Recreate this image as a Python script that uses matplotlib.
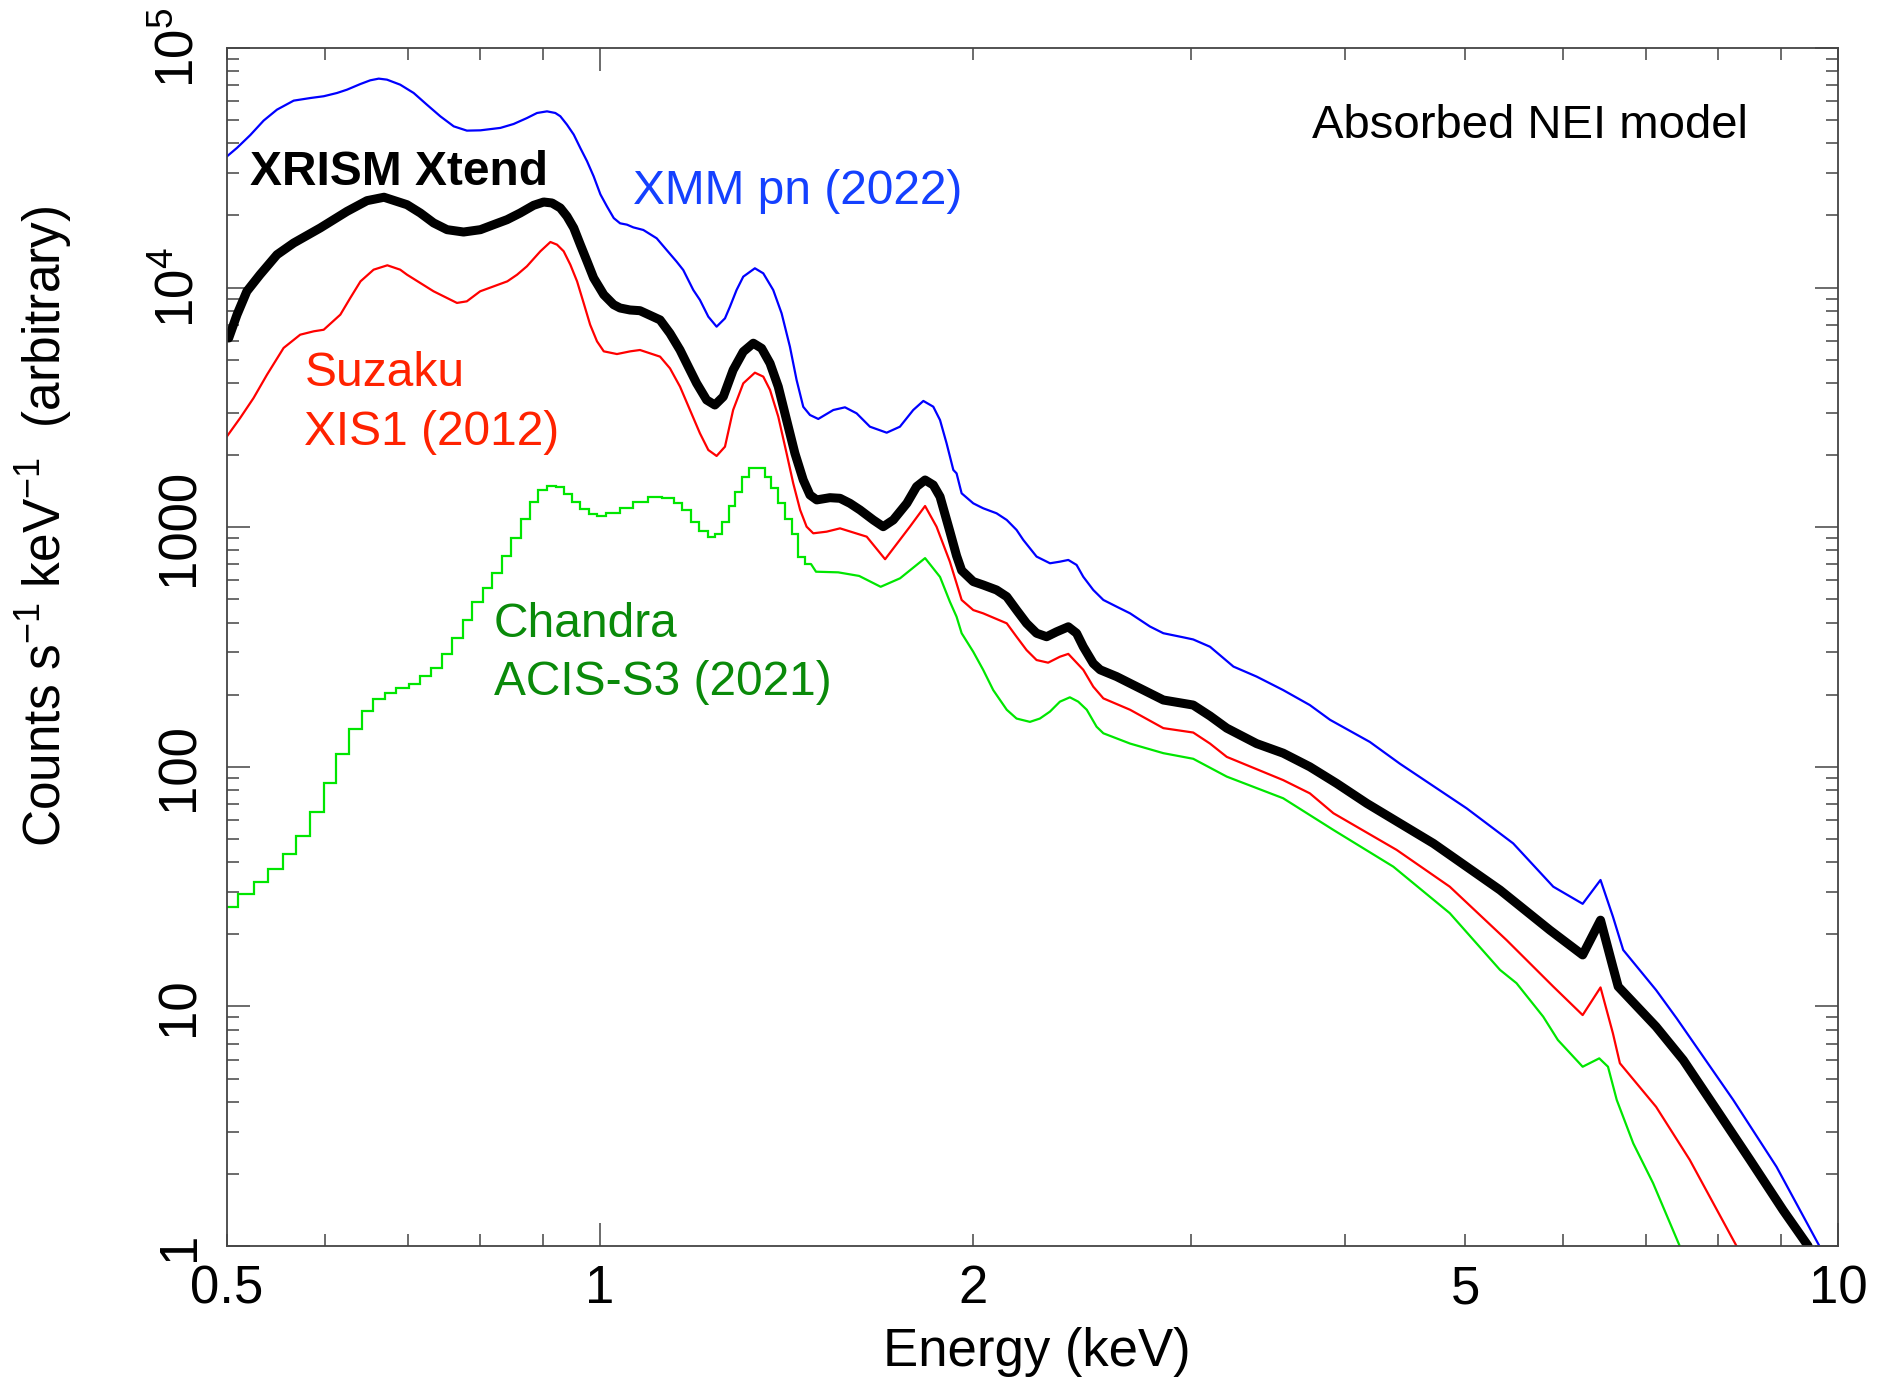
import numpy as np
import matplotlib.pyplot as plt
from matplotlib.ticker import FixedLocator, FixedFormatter, LogLocator, NullFormatter

plt.rcParams['font.family'] = ['Liberation Sans', 'DejaVu Sans']
plt.rcParams['mathtext.fontset'] = 'custom'
plt.rcParams['mathtext.rm'] = 'Liberation Sans'
plt.rcParams['mathtext.it'] = 'Liberation Sans:italic'
plt.rcParams['mathtext.bf'] = 'Liberation Sans:bold'

# =====================================================
# XMM pn (2022)
# =====================================================
xmm_e = [0.500, 0.5094, 0.5221, 0.5353, 0.5487, 0.566, 0.5839, 0.5985, 0.6135, 0.625,
         0.6406, 0.6526, 0.663, 0.6732, 0.690, 0.7075, 0.7251, 0.7435, 0.7622, 0.7811,
         0.801, 0.8313, 0.852, 0.8733, 0.8899, 0.9066, 0.9207, 0.9293, 0.9409, 0.9528,
         0.9645, 0.9766, 0.9887, 1.0012, 1.0134, 1.0264, 1.0385, 1.0519, 1.0644, 1.0844,
         1.1117, 1.1325, 1.1537, 1.168, 1.19, 1.2048, 1.2237, 1.2427, 1.2622, 1.274,
         1.2897, 1.3059, 1.3344, 1.3554, 1.3807, 1.4024, 1.4242, 1.442, 1.46, 1.4783,
         1.5013, 1.5439, 1.5778, 1.6123, 1.6527, 1.705, 1.7475, 1.7913, 1.8253, 1.8593,
         1.8828, 1.9059, 1.93, 1.9416, 1.9537, 1.96, 2.0028, 2.0278, 2.0405, 2.0915,
         2.1315, 2.1708, 2.198, 2.253, 2.31, 2.353, 2.39, 2.427, 2.4575, 2.5036,
         2.551, 2.6147, 2.681, 2.782, 2.852, 2.96, 3.015, 3.1106, 3.249, 3.392,
         3.564, 3.745, 3.889, 4.187, 4.428, 5.013, 5.466, 5.889, 6.22, 6.43,
         6.58, 6.707, 7.13, 7.41, 8.23, 8.92, 9.66]
xmm_c = [35300, 38300, 43300, 49800, 55300, 60300, 61840, 62900, 64900, 67000,
         70700, 73300, 74500, 73780, 70300, 64900, 58000, 51850, 47100, 45200,
         45330, 46400, 48180, 51000, 53550, 54400, 53550, 51900, 47860, 43500,
         38240, 33700, 29140, 24500, 21840, 19500, 18550, 18310, 17840, 17400,
         16060, 14350, 12830, 11840, 9772, 8880, 7562, 6870, 7441, 8327,
         9770, 11110, 12040, 11470, 9770, 7807, 5670, 4116, 3180, 2940,
         2830, 3084, 3165, 2987, 2627, 2480, 2627, 3084, 3365, 3184,
         2800, 2239, 1733, 1678, 1477, 1385, 1258, 1218, 1199, 1143,
         1072, 974, 885, 754, 707, 718, 730, 696, 621, 547,
         497, 466, 437, 385, 361, 347, 340, 317, 262, 238,
         209, 181, 157, 127, 103, 67.1, 47.9, 31.6, 26.8, 33.7,
         23.7, 17.2, 11.7, 8.9, 4.07, 2.14, 1.0]

# =====================================================
# XRISM Xtend
# =====================================================
xrism_e = [0.5016, 0.5094, 0.5188, 0.5317, 0.5487, 0.566, 0.5947, 0.625, 0.6487, 0.6695,
           0.6988, 0.7163, 0.7342, 0.7528, 0.7763, 0.801, 0.8212, 0.8417, 0.8625, 0.8843,
           0.901, 0.915, 0.9293, 0.9409, 0.9528, 0.9645, 0.9766, 0.9887, 1.0075, 1.0261,
           1.0385, 1.0578, 1.0777, 1.1187, 1.1395, 1.161, 1.179, 1.1973, 1.2199, 1.2387,
           1.2583, 1.2815, 1.3059, 1.3305, 1.3512, 1.3725, 1.3937, 1.4154, 1.4375, 1.46,
           1.4783, 1.497, 1.5343, 1.5633, 1.5924, 1.6226, 1.663, 1.694, 1.726, 1.7703,
           1.8025, 1.8312, 1.8593, 1.8828, 1.9175, 1.9416, 1.96, 2.0028, 2.04, 2.0915,
           2.1315, 2.1708, 2.2115, 2.253, 2.2955, 2.3387, 2.39, 2.427, 2.4575, 2.5036,
           2.536, 2.6147, 2.681, 2.852, 3.015, 3.1106, 3.209, 3.392, 3.564, 3.745,
           3.936, 4.163, 4.712, 5.334, 5.853, 6.22, 6.43, 6.58, 6.645, 7.13,
           7.5, 7.98, 8.49, 9.03, 9.46]
xrism_c = [6160, 7710, 9650, 11330, 13720, 15350, 17740, 20800, 23060, 23830,
           22180, 20480, 18620, 17450, 17060, 17450, 18320, 19210, 20480, 22050,
           22760, 22550, 21500, 19830, 17740, 15110, 12880, 10970, 9340, 8489,
           8220, 8064, 8010, 7330, 6444, 5490, 4677, 3990, 3396, 3236,
           3506, 4530, 5402, 5860, 5579, 4830, 3859, 2802, 2034, 1574,
           1363, 1300, 1328, 1320, 1258, 1180, 1072, 1005, 1072, 1259,
           1477, 1574, 1500, 1341, 960, 760, 660, 593, 574, 547,
           513, 451, 397, 361, 349, 366, 384, 361, 317, 270,
           254, 238, 223, 190, 181, 163, 145, 125, 114, 100,
           85.3, 70.4, 47.9, 30.6, 20.8, 16.4, 22.9, 14.6, 12.1, 8.23,
           5.97, 3.70, 2.29, 1.41, 1.0]

# =====================================================
# Suzaku XIS1 (2012)
# =====================================================
suzaku_e = [0.5, 0.5124, 0.5253, 0.5386, 0.5555, 0.5729, 0.5875, 0.5985, 0.6173, 0.6288,
            0.6409, 0.6567, 0.6737, 0.69, 0.6988, 0.7342, 0.7668, 0.781, 0.8006, 0.8421,
            0.8575, 0.8733, 0.8954, 0.9123, 0.9236, 0.9351, 0.9468, 0.9587, 0.9705, 0.9823,
            0.9949, 1.0075, 1.0325, 1.0584, 1.0777, 1.1187, 1.1395, 1.161, 1.1827, 1.2048,
            1.2237, 1.2427, 1.2622, 1.2815, 1.3059, 1.3344, 1.3554, 1.3725, 1.3937, 1.4154,
            1.433, 1.4516, 1.4691, 1.4874, 1.5249, 1.5633, 1.6428, 1.70, 1.7802, 1.8312,
            1.8706, 1.9175, 1.9416, 1.96, 2.0028, 2.04, 2.1315, 2.1708, 2.2115, 2.253,
            2.302, 2.353, 2.39, 2.4575, 2.5036, 2.551, 2.681, 2.852, 3.015, 3.1106,
            3.209, 3.564, 3.745, 3.913, 4.401, 4.858, 5.40, 5.889, 6.22, 6.43,
            6.58, 6.666, 7.13, 7.59, 8.28]
suzaku_c = [2395, 2857, 3460, 4330, 5600, 6360, 6570, 6670, 7710, 9050,
            10620, 11880, 12390, 11880, 11320, 9650, 8630, 8764, 9650, 10620,
            11320, 12270, 14170, 15500, 15110, 14180, 12460, 10620, 8625, 7000,
            5967, 5420, 5280, 5420, 5490, 5150, 4603, 3860, 3084, 2465,
            2100, 1983, 2168, 3085, 3985, 4415, 4250, 3740, 2893, 2035,
            1525, 1180, 1005, 943, 958, 989, 913, 735, 1005, 1226,
            1005, 718, 583, 497, 451, 437, 397, 349, 307, 279,
            272, 288, 296, 254, 216, 193, 173, 145, 139, 125,
            110, 88, 77.5, 64, 45, 31.6, 18.9, 12.1, 9.2, 12.0,
            7.72, 5.79, 3.81, 2.29, 1.0]

# =====================================================
# Chandra ACIS-S3 (2021): channel bins at low energy + high energy part
# =====================================================
chandra_edges = [0.5, 0.5102, 0.5253, 0.5395, 0.5545, 0.5685, 0.5838, 0.5985, 0.6126, 0.6270,
                 0.6422, 0.6563, 0.6711, 0.6851, 0.7008, 0.7160, 0.7311, 0.7458, 0.7601, 0.7748,
                 0.7890, 0.8043, 0.8190, 0.8341, 0.8482, 0.8630, 0.8776, 0.8923, 0.9072, 0.9224,
                 0.9354, 0.9495, 0.9647, 0.9793, 0.9955, 1.0124, 1.038, 1.064, 1.093, 1.123,
                 1.147, 1.166, 1.184, 1.203, 1.223, 1.240, 1.256, 1.271, 1.287, 1.303,
                 1.321, 1.341, 1.359, 1.376, 1.394, 1.411, 1.429, 1.446, 1.465, 1.482]
chandra_bins = [26.1, 29.4, 33.0, 37.4, 43.3, 51.6, 64.6, 85.3, 112.7, 143.8,
                171.5, 191.8, 203.8, 213.3, 222.2, 238.6, 259.2, 295, 346, 410,
                486, 559, 646, 756, 904, 1085, 1277, 1429, 1485, 1468,
                1380, 1277, 1188, 1132, 1117, 1143, 1199, 1277, 1341, 1320,
                1259, 1180, 1056, 963, 913, 940, 1056, 1222, 1398, 1620,
                1760, 1760, 1620, 1452, 1259, 1085, 940, 753, 699]
chandra_e = [1.482, 1.495, 1.558, 1.62, 1.686, 1.748, 1.8312, 1.8828, 1.9175, 1.9416,
             1.96, 2.0028, 2.04, 2.0786, 2.1315, 2.1708, 2.2255, 2.267, 2.31, 2.353,
             2.397, 2.4346, 2.4735, 2.519, 2.551, 2.681, 2.852, 3.015, 3.209, 3.564,
             3.913, 4.374, 4.858, 5.334, 5.50, 5.78, 5.94, 6.22, 6.415, 6.52,
             6.627, 6.834, 7.09, 7.45]
chandra_c = [699, 652, 648, 626, 564, 612, 743, 620, 489, 423,
             361, 302, 254, 209, 173, 159, 154, 159, 170, 187,
             195, 187, 173, 147, 138, 125, 114, 108, 91, 73.9,
             54.5, 38.3, 24.5, 14.2, 12.5, 9.06, 7.24, 5.60, 6.07, 5.60,
             4.07, 2.68, 1.83, 1.0]

x_major = [1, 10]
x_major_labels = ['1', '10']
x_minor = [0.5, 0.6, 0.7, 0.8, 0.9, 2, 3, 4, 5, 6, 7, 8, 9]
x_minor_labels = ['0.5', '', '', '', '', '2', '', '', '5', '', '', '', '']
y_major = [1, 10, 100, 1000, 1e4, 1e5]
y_major_labels = ['1', '10', '100', '1000', r'$10^4$', r'$10^5$']

# =====================================================
# PLOT
# =====================================================
W, H = 1878, 1380
fig = plt.figure(figsize=(W / 100, H / 100), dpi=100)
ax = fig.add_axes([227 / W, 134 / H, 1611 / W, 1198 / H])

ax.stairs(chandra_bins, chandra_edges, color='#00e600', lw=1.6, baseline=None)
ax.plot(chandra_e, chandra_c, color='#00e600', lw=1.6)
ax.plot(suzaku_e, suzaku_c, color='#ff0000', lw=1.6)
ax.plot(xmm_e, xmm_c, color='#0000ff', lw=1.6)
ax.plot(xrism_e, xrism_c, color='black', lw=6.5, solid_capstyle='round',
        solid_joinstyle='round')

ax.set_xscale('log')
ax.set_yscale('log')
ax.set_xlim(0.5, 10)
ax.set_ylim(1, 1e5)

ax.xaxis.set_major_locator(FixedLocator(x_major))
ax.xaxis.set_major_formatter(FixedFormatter(x_major_labels))
ax.xaxis.set_minor_locator(FixedLocator(x_minor))
ax.xaxis.set_minor_formatter(FixedFormatter(x_minor_labels))
ax.yaxis.set_major_locator(FixedLocator(y_major))
ax.yaxis.set_major_formatter(FixedFormatter(y_major_labels))
ax.yaxis.set_minor_locator(LogLocator(base=10, subs=np.arange(2, 10), numticks=20))
ax.yaxis.set_minor_formatter(NullFormatter())

axis_col = '#444444'
for sp in ax.spines.values():
    sp.set_color(axis_col)
    sp.set_linewidth(1.3)
ax.tick_params(which='both', direction='in', top=True, right=True,
               color=axis_col, width=1.1, labelsize=38)
ax.tick_params(which='major', length=16.5)
ax.tick_params(which='minor', length=8.6)
ax.tick_params(axis='x', which='both', pad=13)
ax.tick_params(axis='y', which='both', pad=16, labelrotation=90)
for lbl in ax.get_yticklabels():
    lbl.set_va('center')

fig.text(44 / W, 1 - 526 / H, r'Counts s$^{-1}$ keV$^{-1}$  (arbitrary)',
         rotation=90, ha='center', va='center', fontsize=37)
fig.text(1037 / W, 1 - 1352 / H, 'Energy (keV)', ha='center', va='center', fontsize=38)

ax.text(0.6733, 0.9246, 'Absorbed NEI model', transform=ax.transAxes,
        fontsize=34, va='baseline')
ax.text(0.0145, 0.8854, 'XRISM Xtend', transform=ax.transAxes,
        fontsize=34.5, fontweight='bold', va='baseline')
ax.text(0.2522, 0.8698, 'XMM pn (2022)', transform=ax.transAxes,
        fontsize=34.5, color='#1440ff', va='baseline')
ax.text(0.048, 0.7176, 'Suzaku', transform=ax.transAxes,
        fontsize=34.5, color='#ff2200', va='baseline')
ax.text(0.048, 0.6689, 'XIS1 (2012)', transform=ax.transAxes,
        fontsize=34.5, color='#ff2200', va='baseline')
ax.text(0.1656, 0.5086, 'Chandra', transform=ax.transAxes,
        fontsize=34.5, color='#0a8a0a', va='baseline')
ax.text(0.1656, 0.4599, 'ACIS-S3 (2021)', transform=ax.transAxes,
        fontsize=34.5, color='#0a8a0a', va='baseline')

fig.savefig('out.png', dpi=100)
